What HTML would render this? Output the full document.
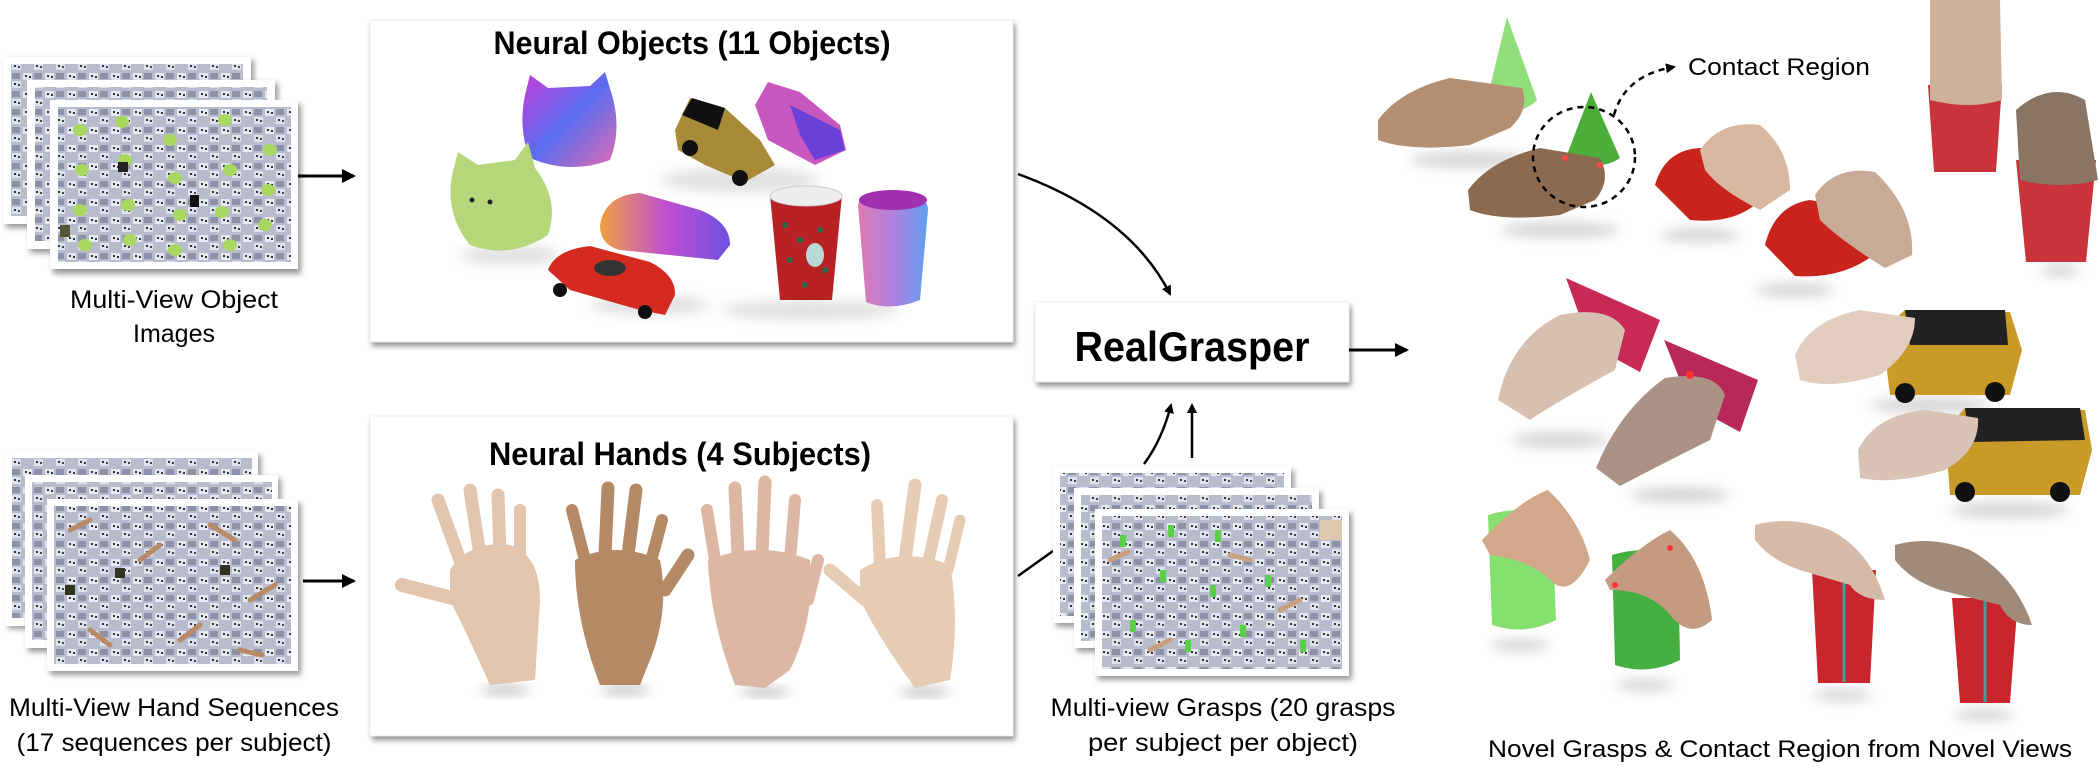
<!DOCTYPE html>
<html><head><meta charset="utf-8"><style>
html,body{margin:0;padding:0;background:#fff;}
svg{display:block;}
text{font-family:"Liberation Sans",sans-serif;fill:#000;}
</style></head><body>
<svg width="2100" height="782" viewBox="0 0 2100 782" xmlns="http://www.w3.org/2000/svg">
<defs>
<pattern id="grid" width="22" height="18" patternUnits="userSpaceOnUse">
<rect width="22" height="18" fill="#b9bccd"/>
<rect x="1" y="1" width="9" height="7" fill="#e6e8f2"/>
<rect x="12" y="9" width="9" height="7" fill="#dfe1ec"/>
<rect x="3" y="3" width="2" height="2" fill="#333"/><rect x="7" y="4" width="2" height="2" fill="#333"/>
<rect x="14" y="11" width="2" height="2" fill="#333"/><rect x="18" y="12" width="2" height="2" fill="#444"/>
<rect x="12" y="1" width="8" height="6" fill="#8e92a8"/>
</pattern>
<filter id="bl" x="-20%" y="-20%" width="140%" height="140%"><feGaussianBlur stdDeviation="6"/></filter>
<filter id="sb" x="-20%" y="-50%" width="140%" height="200%"><feGaussianBlur stdDeviation="3"/></filter>
<marker id="ah" markerWidth="10" markerHeight="10" refX="8" refY="5" orient="auto" markerUnits="userSpaceOnUse"><path d="M0,0 L10,5 L0,10 z" fill="#000"/></marker>
<marker id="ah2" markerWidth="14" markerHeight="14" refX="12" refY="7" orient="auto" markerUnits="userSpaceOnUse"><path d="M0,0 L14,7 L0,14 z" fill="#000"/></marker>
<linearGradient id="rb" x1="0" x2="1" y1="0" y2="1"><stop offset="0" stop-color="#c43bd8"/><stop offset="0.5" stop-color="#5a6cf0"/><stop offset="1" stop-color="#e06bb0"/></linearGradient>
<linearGradient id="rb2" x1="0" x2="1"><stop offset="0" stop-color="#f0a040"/><stop offset="0.5" stop-color="#c050d0"/><stop offset="1" stop-color="#7050e0"/></linearGradient>
<linearGradient id="cy" x1="0" x2="1"><stop offset="0" stop-color="#e07ab0"/><stop offset="0.5" stop-color="#b080e0"/><stop offset="1" stop-color="#60a0f0"/></linearGradient>
</defs>

<!-- Object image stack -->
<g>
<rect x="6" y="60" width="248" height="168" fill="#999" filter="url(#sb)"/>
<rect x="3" y="57" width="248" height="167" fill="#fff"/><rect x="11" y="64" width="232" height="152" fill="url(#grid)"/>
<rect x="30" y="83" width="248" height="170" fill="#999" filter="url(#sb)"/>
<rect x="27" y="80" width="248" height="169" fill="#fff"/><rect x="35" y="87" width="232" height="154" fill="url(#grid)"/>
<rect x="53" y="104" width="248" height="170" fill="#999" filter="url(#sb)"/>
<rect x="50" y="100" width="248" height="169" fill="#fff"/><rect x="58" y="107" width="233" height="155" fill="url(#grid)"/>
<g fill="#a8d860">
<ellipse cx="80" cy="130" rx="7" ry="6"/><ellipse cx="122" cy="122" rx="7" ry="6"/><ellipse cx="170" cy="140" rx="7" ry="6"/><ellipse cx="225" cy="120" rx="7" ry="6"/><ellipse cx="270" cy="150" rx="7" ry="6"/>
<ellipse cx="82" cy="170" rx="7" ry="6"/><ellipse cx="125" cy="160" rx="7" ry="6"/><ellipse cx="175" cy="178" rx="7" ry="6"/><ellipse cx="230" cy="170" rx="7" ry="6"/><ellipse cx="268" cy="190" rx="7" ry="6"/>
<ellipse cx="80" cy="210" rx="7" ry="6"/><ellipse cx="128" cy="205" rx="7" ry="6"/><ellipse cx="180" cy="215" rx="7" ry="6"/><ellipse cx="222" cy="212" rx="7" ry="6"/><ellipse cx="265" cy="225" rx="7" ry="6"/>
<ellipse cx="85" cy="245" rx="7" ry="6"/><ellipse cx="130" cy="240" rx="7" ry="6"/><ellipse cx="175" cy="250" rx="7" ry="6"/><ellipse cx="230" cy="245" rx="7" ry="6"/>
</g>
<rect x="118" y="162" width="10" height="10" fill="#222"/><rect x="190" y="195" width="9" height="12" fill="#111"/><rect x="60" y="225" width="10" height="12" fill="#553"/>
</g>
<text x="174" y="308" font-size="25" text-anchor="middle" textLength="208" lengthAdjust="spacingAndGlyphs">Multi-View Object</text>
<text x="174" y="342" font-size="25" text-anchor="middle">Images</text>
<line x1="298" y1="176" x2="354" y2="176" stroke="#000" stroke-width="3" marker-end="url(#ah2)"/>

<!-- Hand image stack -->
<g>
<rect x="8" y="455" width="253" height="174" fill="#999" filter="url(#sb)"/>
<rect x="5" y="451" width="253" height="175" fill="#fff"/><rect x="12" y="458" width="240" height="160" fill="url(#grid)"/>
<rect x="28" y="478" width="253" height="174" fill="#999" filter="url(#sb)"/>
<rect x="25" y="475" width="253" height="173" fill="#fff"/><rect x="32" y="482" width="240" height="158" fill="url(#grid)"/>
<rect x="50" y="503" width="251" height="172" fill="#999" filter="url(#sb)"/>
<rect x="47" y="499" width="251" height="172" fill="#fff"/><rect x="54" y="506" width="237" height="158" fill="url(#grid)"/>
<g stroke="#b88a68" stroke-width="5" stroke-linecap="round">
<line x1="70" y1="530" x2="90" y2="520"/><line x1="140" y1="560" x2="160" y2="545"/><line x1="210" y1="525" x2="235" y2="540"/><line x1="250" y1="600" x2="275" y2="585"/><line x1="90" y1="630" x2="110" y2="645"/><line x1="180" y1="640" x2="200" y2="625"/><line x1="240" y1="650" x2="262" y2="655"/>
</g>
<rect x="115" y="568" width="10" height="10" fill="#332"/><rect x="220" y="565" width="10" height="10" fill="#332"/><rect x="65" y="585" width="10" height="10" fill="#332"/>
</g>
<text x="174" y="716" font-size="25" text-anchor="middle" textLength="330" lengthAdjust="spacingAndGlyphs">Multi-View Hand Sequences</text>
<text x="174" y="751" font-size="25" text-anchor="middle" textLength="315" lengthAdjust="spacingAndGlyphs">(17 sequences per subject)</text>
<line x1="303" y1="581" x2="354" y2="581" stroke="#000" stroke-width="3" marker-end="url(#ah2)"/>

<!-- Neural Objects box -->
<rect x="372" y="24" width="643" height="322" fill="#888" filter="url(#sb)"/>
<rect x="370" y="20" width="643" height="322" fill="#fff" stroke="#eee"/>
<text x="692" y="54" font-size="32" font-weight="bold" text-anchor="middle" textLength="397" lengthAdjust="spacingAndGlyphs">Neural Objects (11 Objects)</text>
<g filter="url(#bl)" fill="#ccc" opacity="0.6">
<ellipse cx="510" cy="255" rx="50" ry="10"/><ellipse cx="650" cy="305" rx="60" ry="10"/><ellipse cx="810" cy="310" rx="90" ry="10"/><ellipse cx="740" cy="180" rx="80" ry="12"/>
</g>
<!-- purple cat -->
<path d="M525,95 L530,75 L548,88 L590,86 L605,72 L612,95 Q622,130 610,160 Q570,175 530,158 Q518,130 525,95 Z" fill="url(#rb)"/>
<!-- green cat -->
<path d="M452,175 L458,152 L478,165 L515,160 L528,142 L535,168 Q560,200 548,235 Q510,260 470,245 Q445,215 452,175 Z" fill="#b5d77a"/>
<circle cx="472" cy="200" r="2.5" fill="#222"/><circle cx="490" cy="202" r="2.5" fill="#222"/>
<!-- black/yellow car -->
<path d="M675,130 L690,98 L725,108 L760,140 L775,165 L745,182 L705,165 L678,150 Z" fill="#a88a38"/>
<path d="M682,115 L692,98 L725,108 L718,130 Z" fill="#111"/>
<circle cx="690" cy="148" r="8" fill="#111"/><circle cx="740" cy="178" r="8" fill="#111"/>
<!-- pink truck -->
<path d="M755,105 L768,82 L800,92 L840,125 L846,150 L815,165 L768,140 Z" fill="#c858c0"/>
<path d="M790,105 L840,130 L845,150 L815,160 L800,135 Z" fill="#6a40d8"/>
<!-- rainbow car -->
<path d="M600,225 Q605,195 640,193 L700,210 Q730,222 730,245 L718,260 L620,250 Q600,245 600,225 Z" fill="url(#rb2)"/>
<!-- red car -->
<path d="M548,270 Q555,250 590,246 L650,262 Q676,275 675,295 L665,315 L640,310 L570,290 Z" fill="#d42a20"/>
<ellipse cx="610" cy="268" rx="16" ry="8" fill="#333"/>
<circle cx="560" cy="290" r="7" fill="#111"/><circle cx="645" cy="312" r="7" fill="#111"/>
<!-- red cup -->
<path d="M770,195 L842,195 L832,300 L780,300 Z" fill="#b82224"/>
<ellipse cx="806" cy="196" rx="36" ry="10" fill="#eee" stroke="#ccc"/>
<g fill="#2a6a4a"><circle cx="785" cy="225" r="3"/><circle cx="800" cy="240" r="3"/><circle cx="820" cy="230" r="3"/><circle cx="790" cy="260" r="3"/><circle cx="825" cy="270" r="3"/><circle cx="805" cy="285" r="3"/></g>
<ellipse cx="815" cy="255" rx="9" ry="12" fill="#b8d8d8"/>
<!-- rainbow cylinder -->
<path d="M858,205 Q860,192 892,192 Q928,192 928,210 L920,300 Q890,312 866,302 Z" fill="url(#cy)"/>
<ellipse cx="893" cy="200" rx="34" ry="10" fill="#a030b0"/>

<!-- Neural Hands box -->
<rect x="372" y="420" width="643" height="320" fill="#888" filter="url(#sb)"/>
<rect x="370" y="416" width="643" height="320" fill="#fff" stroke="#eee"/>
<text x="680" y="465" font-size="32" font-weight="bold" text-anchor="middle" textLength="382" lengthAdjust="spacingAndGlyphs">Neural Hands (4 Subjects)</text>
<g filter="url(#bl)" fill="#999" opacity="0.6"><ellipse cx="505" cy="690" rx="25" ry="5"/><ellipse cx="625" cy="690" rx="25" ry="5"/><ellipse cx="765" cy="692" rx="25" ry="5"/><ellipse cx="925" cy="692" rx="25" ry="5"/></g>
<!-- hand 1 -->
<g fill="#e3c4ac" stroke="#e3c4ac" stroke-linecap="round">
<path d="M450,570 Q470,540 510,545 Q540,555 540,600 L535,680 L490,685 Q470,640 450,600 Z" stroke="none"/>
<line x1="460" y1="560" x2="438" y2="500" stroke-width="13"/><line x1="480" y1="555" x2="470" y2="490" stroke-width="13"/><line x1="500" y1="555" x2="498" y2="495" stroke-width="13"/><line x1="520" y1="560" x2="520" y2="510" stroke-width="12"/>
<line x1="460" y1="600" x2="402" y2="585" stroke-width="14"/>
</g>
<!-- hand 2 -->
<g fill="#b48a66" stroke="#b48a66" stroke-linecap="round">
<path d="M575,560 Q615,540 660,560 Q670,610 650,660 L640,685 L600,685 Q575,620 575,560 Z" stroke="none"/>
<line x1="585" y1="560" x2="572" y2="510" stroke-width="12"/><line x1="605" y1="555" x2="608" y2="488" stroke-width="13"/><line x1="628" y1="555" x2="636" y2="490" stroke-width="13"/><line x1="650" y1="565" x2="662" y2="520" stroke-width="12"/>
<line x1="665" y1="590" x2="688" y2="555" stroke-width="13"/>
</g>
<!-- hand 3 -->
<g fill="#dcb8a4" stroke="#dcb8a4" stroke-linecap="round">
<path d="M708,560 Q760,540 810,560 Q815,620 790,670 L765,688 L735,685 Q710,620 708,560 Z" stroke="none"/>
<line x1="715" y1="560" x2="707" y2="510" stroke-width="12"/><line x1="738" y1="555" x2="735" y2="488" stroke-width="13"/><line x1="762" y1="555" x2="765" y2="482" stroke-width="13"/><line x1="790" y1="560" x2="795" y2="500" stroke-width="12"/>
<line x1="808" y1="600" x2="818" y2="560" stroke-width="12"/>
</g>
<!-- hand 4 -->
<g fill="#e6ccb4" stroke="#e6ccb4" stroke-linecap="round">
<path d="M860,570 Q900,545 950,565 Q960,620 950,680 L915,688 Q880,640 860,600 Z" stroke="none"/>
<line x1="880" y1="565" x2="877" y2="505" stroke-width="12"/><line x1="905" y1="560" x2="915" y2="485" stroke-width="13"/><line x1="928" y1="563" x2="942" y2="500" stroke-width="12"/><line x1="948" y1="570" x2="960" y2="520" stroke-width="11"/>
<line x1="865" y1="600" x2="830" y2="570" stroke-width="13"/>
</g>

<!-- curved arrow to RealGrasper -->
<path d="M1018,174 Q1130,215 1170,294" fill="none" stroke="#000" stroke-width="2.5" marker-end="url(#ah)"/>
<!-- RealGrasper box -->
<rect x="1037" y="306" width="314" height="80" fill="#888" filter="url(#sb)"/>
<rect x="1035" y="302" width="314" height="80" fill="#fff" stroke="#eee"/>
<text x="1192" y="361" font-size="42" font-weight="bold" text-anchor="middle" textLength="235" lengthAdjust="spacingAndGlyphs">RealGrasper</text>
<line x1="1349" y1="350" x2="1407" y2="350" stroke="#000" stroke-width="3" marker-end="url(#ah2)"/>
<!-- up arrows -->
<line x1="1192" y1="458" x2="1192" y2="405" stroke="#000" stroke-width="2.5" marker-end="url(#ah)"/>
<path d="M1144,464 Q1162,440 1171,405" fill="none" stroke="#000" stroke-width="2.5" marker-end="url(#ah)"/>
<line x1="1018" y1="576" x2="1053" y2="551" stroke="#000" stroke-width="2.5"/>

<!-- grasp stack -->
<g>
<rect x="1056" y="470" width="238" height="157" fill="#999" filter="url(#sb)"/>
<rect x="1053" y="466" width="238" height="157" fill="#fff"/><rect x="1060" y="473" width="224" height="143" fill="url(#grid)"/>
<rect x="1077" y="492" width="245" height="160" fill="#999" filter="url(#sb)"/>
<rect x="1074" y="488" width="245" height="160" fill="#fff"/><rect x="1081" y="495" width="231" height="146" fill="url(#grid)"/>
<rect x="1098" y="513" width="254" height="167" fill="#999" filter="url(#sb)"/>
<rect x="1095" y="509" width="254" height="167" fill="#fff"/><rect x="1102" y="516" width="240" height="153" fill="url(#grid)"/>
<g fill="#5ccf4a"><rect x="1120" y="535" width="6" height="12"/><rect x="1168" y="525" width="6" height="12"/><rect x="1215" y="530" width="6" height="12"/><rect x="1160" y="570" width="6" height="12"/><rect x="1210" y="585" width="6" height="12"/><rect x="1265" y="575" width="6" height="12"/><rect x="1130" y="620" width="6" height="12"/><rect x="1185" y="640" width="6" height="12"/><rect x="1240" y="625" width="6" height="12"/><rect x="1300" y="640" width="6" height="12"/></g>
<g stroke="#c8a080" stroke-width="5" stroke-linecap="round"><line x1="1110" y1="560" x2="1128" y2="552"/><line x1="1230" y1="555" x2="1250" y2="560"/><line x1="1150" y1="650" x2="1170" y2="640"/><line x1="1280" y1="610" x2="1300" y2="600"/></g>
<rect x="1320" y="520" width="22" height="20" fill="#e0c8b0"/>
</g>
<text x="1223" y="716" font-size="25" text-anchor="middle" textLength="345" lengthAdjust="spacingAndGlyphs">Multi-view Grasps (20 grasps</text>
<text x="1223" y="751" font-size="25" text-anchor="middle" textLength="270" lengthAdjust="spacingAndGlyphs">per subject per object)</text>

<!-- right side results -->
<g filter="url(#bl)" fill="#aaa" opacity="0.5">
<ellipse cx="1470" cy="160" rx="60" ry="8"/><ellipse cx="1560" cy="230" rx="60" ry="8"/><ellipse cx="1700" cy="235" rx="40" ry="7"/><ellipse cx="1795" cy="290" rx="40" ry="7"/><ellipse cx="2060" cy="270" rx="20" ry="6"/>
<ellipse cx="1560" cy="440" rx="50" ry="8"/><ellipse cx="1680" cy="495" rx="50" ry="8"/><ellipse cx="1930" cy="405" rx="60" ry="8"/><ellipse cx="2010" cy="510" rx="60" ry="8"/>
<ellipse cx="1520" cy="645" rx="30" ry="6"/><ellipse cx="1645" cy="685" rx="30" ry="6"/><ellipse cx="1842" cy="695" rx="30" ry="6"/><ellipse cx="1984" cy="715" rx="30" ry="6"/>
</g>
<!-- row1 -->
<path d="M1507,17 L1537,100 Q1520,118 1485,108 Z" fill="#8fe07a"/>
<path d="M1378,120 Q1400,90 1450,78 L1522,88 Q1530,110 1510,128 L1470,145 Q1410,152 1378,140 Z" fill="#b58f72"/>
<path d="M1591,92 L1620,158 Q1600,172 1565,160 Z" fill="#4cae3a"/>
<path d="M1468,190 Q1490,160 1540,148 L1600,158 Q1612,180 1595,200 L1560,215 Q1500,222 1470,210 Z" fill="#8c6a50"/>
<circle cx="1600" cy="165" r="3" fill="#f44"/><circle cx="1565" cy="158" r="3" fill="#f44"/>
<ellipse cx="1584" cy="157" rx="51" ry="50" fill="none" stroke="#000" stroke-width="2.5" stroke-dasharray="6,5"/>
<path d="M1614,115 Q1625,75 1674,67" fill="none" stroke="#000" stroke-width="2.5" stroke-dasharray="6,5" marker-end="url(#ah)"/>
<text x="1688" y="75" font-size="24" textLength="182" lengthAdjust="spacingAndGlyphs">Contact Region</text>
<path d="M1655,185 Q1665,150 1700,148 L1772,165 L1765,195 Q1740,225 1690,220 Z" fill="#c8241c"/>
<path d="M1700,150 Q1720,120 1760,125 Q1790,150 1790,190 L1760,210 Q1720,190 1705,170 Z" fill="#d8b8a0"/>
<path d="M1765,245 Q1775,205 1810,200 L1890,215 L1885,245 Q1850,280 1795,276 Z" fill="#c8241c"/>
<path d="M1815,195 Q1835,165 1875,172 Q1915,210 1912,255 L1885,268 Q1840,240 1820,220 Z" fill="#c8aa96"/>
<path d="M1928,85 L2002,85 L1996,172 L1934,172 Z" fill="#c8343a"/>
<path d="M1930,0 L2000,0 L2002,100 Q1970,110 1930,100 Z" fill="#cfb09a"/>
<path d="M2016,160 L2096,160 L2086,262 L2026,262 Z" fill="#c8343a"/>
<path d="M2016,110 Q2050,80 2085,100 L2098,180 Q2060,190 2020,180 Z" fill="#8a7464"/>
<!-- row2 -->
<path d="M1566,278 L1660,320 L1640,372 L1590,345 Z" fill="#c82a58"/>
<path d="M1498,400 Q1510,340 1560,315 Q1610,305 1625,330 L1615,370 Q1560,400 1530,420 Z" fill="#d8c0b0"/>
<path d="M1664,340 L1758,380 L1740,432 L1690,405 Z" fill="#b82858"/>
<path d="M1596,468 Q1620,410 1665,378 Q1715,370 1725,395 L1710,440 Q1660,465 1620,486 Z" fill="#ab9284"/>
<circle cx="1690" cy="375" r="4" fill="#f33"/>
<path d="M1882,330 L1905,310 L2010,312 L2022,350 L2010,395 L1890,395 Z" fill="#c89a28"/>
<path d="M1905,310 L2005,310 L2008,345 L1910,345 Z" fill="#222"/>
<circle cx="1905" cy="393" r="10" fill="#111"/><circle cx="1995" cy="392" r="10" fill="#111"/>
<path d="M1795,355 Q1810,320 1860,310 L1915,318 Q1915,350 1880,375 Q1830,390 1800,380 Z" fill="#e2cdbf"/>
<path d="M1945,430 L1965,408 L2085,410 L2092,450 L2080,495 L1950,495 Z" fill="#c89a28"/>
<path d="M1965,408 L2080,408 L2085,440 L1970,442 Z" fill="#222"/>
<circle cx="1965" cy="492" r="10" fill="#111"/><circle cx="2060" cy="492" r="10" fill="#111"/>
<path d="M1858,450 Q1875,415 1925,410 L1978,418 Q1980,450 1945,470 Q1895,485 1860,478 Z" fill="#d8c3b5"/>
<!-- row3 -->
<path d="M1488,515 Q1520,505 1552,515 L1556,620 Q1525,636 1492,625 Z" fill="#86e070"/>
<path d="M1482,540 Q1520,500 1548,490 Q1580,520 1590,560 Q1570,600 1550,580 Q1530,560 1490,555 Z" fill="#d2a88a"/>
<path d="M1612,555 Q1645,545 1678,555 L1680,660 Q1648,676 1615,665 Z" fill="#44b040"/>
<path d="M1605,580 Q1640,545 1670,530 Q1705,560 1712,620 Q1690,640 1670,615 Q1650,590 1610,590 Z" fill="#c49a80"/>
<circle cx="1615" cy="585" r="3" fill="#f33"/><circle cx="1670" cy="548" r="3" fill="#f33"/>
<path d="M1812,570 L1876,570 L1870,683 L1818,683 Z" fill="#c8262c"/>
<line x1="1844" y1="575" x2="1844" y2="682" stroke="#3aa0a0" stroke-width="3"/>
<path d="M1755,525 Q1790,515 1830,530 Q1870,550 1885,600 Q1860,600 1850,585 L1800,570 Q1770,560 1755,540 Z" fill="#d5bba7"/>
<path d="M1952,598 L2018,598 L2010,703 L1960,703 Z" fill="#c8262c"/>
<line x1="1985" y1="600" x2="1985" y2="702" stroke="#3aa0a0" stroke-width="3"/>
<path d="M1895,545 Q1930,535 1970,550 Q2015,575 2032,625 Q2010,625 2000,605 L1940,590 Q1910,580 1895,560 Z" fill="#a08a7a"/>
<text x="1780" y="757" font-size="24" text-anchor="middle" textLength="584" lengthAdjust="spacingAndGlyphs">Novel Grasps &amp; Contact Region from Novel Views</text>
</svg>
</body></html>
